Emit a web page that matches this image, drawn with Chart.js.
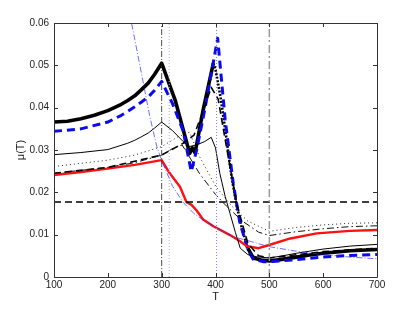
<!DOCTYPE html>
<html>
<head>
<meta charset="utf-8">
<script src="https://cdn.jsdelivr.net/npm/chart.js@4/dist/chart.umd.min.js"></script>
<style>
html,body{margin:0;padding:0;background:#fff;}
#wrap{width:415px;height:312px;position:relative;}
</style>
</head>
<body>
<div id="wrap"><canvas id="c" width="415" height="312"></canvas></div>
<script>
// ---- data ----
const xTicks = [100, 200, 300, 400, 500, 600, 700];
const yTicks = [0, 0.01, 0.02, 0.03, 0.04, 0.05, 0.06];

const thickT  = [100,125,150,175,200,225,237,250,262,275,287,300,325,352,357,362,377,396,400,410,420,430,440,450,460,470,485,500,520,550,575,600,650,700];
const thickMu = [0.0366,0.0368,0.0374,0.0382,0.0393,0.0408,0.0417,0.0428,0.0442,0.0458,0.0479,0.0505,0.0418,0.0292,0.0305,0.0293,0.0394,0.0505,0.0490,0.0420,0.0330,0.0235,0.0165,0.0110,0.0068,0.0045,0.0040,0.0038,0.0041,0.0047,0.0052,0.0056,0.0062,0.0065];

const blueDashT  = [100,150,200,225,237,250,262,275,287,300,320,340,355,365,380,404,418,433,445,460,470,490,500,520,550,575,600,650,700];
const blueDashMu = [0.0344,0.0350,0.0366,0.0382,0.0391,0.0402,0.0413,0.0425,0.0441,0.0462,0.0410,0.0345,0.0249,0.0300,0.0395,0.0564,0.0371,0.0221,0.0130,0.0065,0.0042,0.0036,0.0036,0.0038,0.0041,0.0044,0.0047,0.0051,0.0053];

const thinT  = [100,150,200,237,250,262,275,287,300,320,340,351,365,380,392,400,408,418,427,437,446,460,475,500,520,550,575,600,650,700];
const thinMu = [0.0289,0.0294,0.0301,0.0316,0.0323,0.0331,0.0340,0.0352,0.0366,0.0346,0.0320,0.0308,0.0312,0.0320,0.0330,0.0305,0.0245,0.0190,0.0150,0.0105,0.0068,0.0053,0.0048,0.0045,0.0049,0.0056,0.0061,0.0066,0.0073,0.0077];

const dottedT  = [100,200,250,300,330,352,370,400,430,460,500,550,600,650,700];
const dottedMu = [0.0261,0.0276,0.0288,0.0308,0.0331,0.0342,0.0285,0.0215,0.0168,0.0132,0.0108,0.0117,0.0123,0.0127,0.0128];

const dashDotT  = [100,200,250,300,320,338,370,400,420,450,480,500,550,600,650,700];
const dashDotMu = [0.0245,0.0259,0.0270,0.0288,0.0303,0.0312,0.0245,0.0195,0.0168,0.0132,0.0106,0.0098,0.0107,0.0114,0.0119,0.0121];

const dashedT  = [100,200,300,340,360,378,392,405,420,440,460,480,500,600,700];
const dashedMu = [0.0245,0.0259,0.0288,0.0316,0.0335,0.0395,0.0448,0.0420,0.0310,0.0170,0.0080,0.0050,0.0045,0.0060,0.0068];

const redT  = [100,150,200,250,300,315,334,346,355,365,377,396,427,445,458,480,498,539,588,650,700];
const redMu = [0.0241,0.0248,0.0256,0.0265,0.0276,0.0245,0.0213,0.0177,0.0171,0.0157,0.0136,0.0120,0.0099,0.0085,0.0073,0.0068,0.0075,0.0091,0.0103,0.0109,0.0111];

const blueThinT  = [238,244,260,278,291,300,320,340,360,380,400,433,460,498,550,600,650,700];
const blueThinMu = [0.0650,0.0600,0.0497,0.0379,0.0308,0.0275,0.0215,0.0176,0.0150,0.0132,0.0118,0.0095,0.0086,0.0072,0.0061,0.0053,0.0047,0.0043];

const vLines = [300, 314, 402, 500];
const hLine = 0.0177;

// ---- build datasets ----
const pts = (t, m) => t.map((v, i) => ({x: v, y: m[i]}));
const vl = v => [{x: v, y: 0}, {x: v, y: 0.06}];
const base = {fill: false, pointRadius: 0, tension: 0, borderJoinStyle: 'round'};

const datasets = [
  Object.assign({}, base, {data: vl(vLines[0]), borderColor: '#222', borderWidth: 0.8, borderDash: [6, 2, 1, 2]}),
  Object.assign({}, base, {data: vl(vLines[1]), borderColor: '#a8a8ff', borderWidth: 1, borderDash: [1, 2]}),
  Object.assign({}, base, {data: vl(vLines[2]), borderColor: '#7d7dff', borderWidth: 1, borderDash: [1, 2]}),
  Object.assign({}, base, {data: vl(vLines[3]), borderColor: '#999', borderWidth: 1.5, borderDash: [8, 3, 2, 3]}),
  Object.assign({}, base, {data: [{x: 100, y: hLine}, {x: 700, y: hLine}], borderColor: '#000', borderWidth: 1.4, borderDash: [7, 4]}),
  Object.assign({}, base, {data: pts(blueThinT, blueThinMu), borderColor: 'rgba(40,40,255,0.85)', borderWidth: 0.8, borderDash: [6, 2, 1, 2]}),
  Object.assign({}, base, {data: pts(dottedT, dottedMu), borderColor: '#222', borderWidth: 1, borderDash: [1, 3]}),
  Object.assign({}, base, {data: pts(dashDotT, dashDotMu), borderColor: '#111', borderWidth: 1, borderDash: [7, 3, 1.5, 3]}),
  Object.assign({}, base, {data: pts(thinT, thinMu), borderColor: '#000', borderWidth: 1}),
  Object.assign({}, base, {data: pts(dashedT, dashedMu), borderColor: '#000', borderWidth: 1.6, borderDash: [7, 4]}),
  Object.assign({}, base, {data: pts(redT, redMu), borderColor: '#ff1010', borderWidth: 2.4}),
  Object.assign({}, base, {data: pts(blueDashT, blueDashMu), borderColor: '#0a0aee', borderWidth: 3, borderDash: [8, 5]}),
  Object.assign({}, base, {data: pts(thickT, thickMu), borderColor: '#000', borderWidth: 3.6,
    segment: {
      borderDash: ctx => (ctx.p0.parsed.x >= 396 && ctx.p1.parsed.x <= 460) ? [2, 1.5] : undefined,
      borderWidth: ctx => (ctx.p0.parsed.x >= 396 && ctx.p1.parsed.x <= 460) ? 2.6 : undefined
    }})
];

const boxPlugin = {
  id: 'box',
  afterDatasetsDraw(chart) {
    const {ctx, chartArea: {left, right, top, bottom}, scales: {x, y}} = chart;
    ctx.save();
    ctx.strokeStyle = '#333';
    ctx.lineWidth = 1;
    ctx.setLineDash([]);
    ctx.beginPath();
    ctx.rect(Math.round(left) + 0.5, Math.round(top) + 0.5, Math.round(right - left), Math.round(bottom - top));
    ctx.stroke();
    const L = 4;
    ctx.beginPath();
    xTicks.forEach(v => {
      const p = Math.round(x.getPixelForValue(v)) + 0.5;
      ctx.moveTo(p, bottom); ctx.lineTo(p, bottom - L);
      ctx.moveTo(p, top); ctx.lineTo(p, top + L);
    });
    yTicks.forEach(v => {
      const p = Math.round(y.getPixelForValue(v)) + 0.5;
      ctx.moveTo(left, p); ctx.lineTo(left + L, p);
      ctx.moveTo(right, p); ctx.lineTo(right - L, p);
    });
    ctx.stroke();
    ctx.restore();
  }
};

const FONT = 'Liberation Sans, Arial, Helvetica, sans-serif';

new Chart(document.getElementById('c'), {
  type: 'line',
  data: {datasets},
  options: {
    responsive: false,
    animation: false,
    events: [],
    layout: {padding: {top: 23, right: 38, left: 0, bottom: 0}},
    plugins: {legend: {display: false}, tooltip: {enabled: false}},
    scales: {
      x: {
        type: 'linear', min: 100, max: 700,
        afterBuildTicks: s => { s.ticks = xTicks.map(v => ({value: v})); },
        afterFit: s => { s.height = 35; },
        grid: {display: false, drawTicks: false},
        border: {display: false},
        ticks: {padding: 2, color: '#222', font: {family: FONT, size: 10}, maxRotation: 0, autoSkip: false},
        title: {display: true, text: 'T', color: '#222', font: {family: FONT, size: 11}, padding: {top: 0, bottom: 8}}
      },
      y: {
        type: 'linear', min: 0, max: 0.06,
        afterBuildTicks: s => { s.ticks = yTicks.map(v => ({value: v})); },
        afterFit: s => { s.width = 54; },
        grid: {display: false, drawTicks: false},
        border: {display: false},
        ticks: {padding: 5, color: '#222', font: {family: FONT, size: 10}, autoSkip: false,
          callback: v => v === 0 ? '0' : v.toFixed(2)},
        title: {display: true, text: 'μ(T)', color: '#222', font: {family: FONT, size: 11}, padding: {top: 14, bottom: 0}}
      }
    }
  },
  plugins: [boxPlugin]
});
</script>
</body>
</html>
